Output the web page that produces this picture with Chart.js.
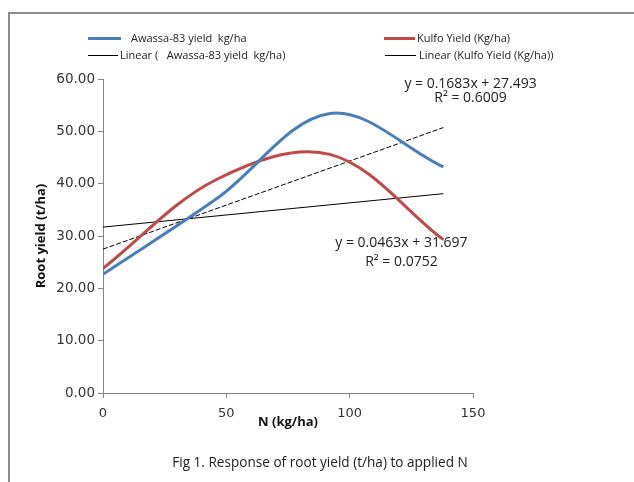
<!DOCTYPE html>
<html>
<head>
<meta charset="utf-8">
<script src="https://cdn.jsdelivr.net/npm/chart.js@4/dist/chart.umd.min.js"></script>
<style>
    body { margin: 0; background: #fff; }
    #wrap { position: relative; width: 634px; height: 482px; overflow: hidden; font-family: "Open Sans", sans-serif; }
    #frame { position: absolute; left: 8px; top: 12px; width: 640px; height: 480px; border-top: 2px solid #8c8c8c; border-left: 2px solid #8c8c8c; }
    canvas { position: absolute; left: 0; top: 0; }
    .leg { position: absolute; font-size: 11px; color: #222; white-space: pre; line-height: 14px; }
    .sw { position: absolute; height: 0; }
    #caption { position: absolute; left: 0; width: 640px; top: 452px; text-align: center; font-size: 13.6px; color: #222; }
</style>
</head>
<body>
<div id="wrap">
    <div id="frame"></div>
    <canvas id="rootChart" width="634" height="482"></canvas>

    <div class="sw" style="left:88px; top:37px; width:33px; border-top:3px solid #4a7ebb;"></div>
    <div class="leg" style="left:131px; top:31px;">Awassa-83 yield  kg/ha</div>
    <div class="sw" style="left:88px; top:55px; width:30px; border-top:1px solid #000;"></div>
    <div class="leg" style="left:120px; top:48px;">Linear (   Awassa-83 yield  kg/ha)</div>

    <div class="sw" style="left:384px; top:37px; width:31px; border-top:3px solid #be4b48;"></div>
    <div class="leg" style="left:417px; top:31px;">Kulfo Yield (Kg/ha)</div>
    <div class="sw" style="left:385px; top:55px; width:31px; border-top:1px solid #000;"></div>
    <div class="leg" style="left:419px; top:48px;">Linear (Kulfo Yield (Kg/ha))</div>

    <div id="caption">Fig 1. Response of root yield (t/ha) to applied N</div>
</div>

<script>
// N rates (kg/ha) and root yields (t/ha)
const nRates = [0, 46, 92, 138];
const awassaYield = [22.7, 37.1, 53.4, 43.2];
const kulfoYield = [23.8, 40.8, 45.6, 29.3];

// linear trendlines, end points
const trendX = [0, 138];
const awassaTrend = [27.49, 50.72];
const kulfoTrend = [31.70, 38.09];

// trendline equations and where they sit (data units)
const eqLabels = [
    { lines: ['y = 0.1683x + 27.493', 'R² = 0.6009'], x: 149, y: [59.1, 56.4] },
    { lines: ['y = 0.0463x + 31.697', 'R² = 0.0752'], x: 121, y: [28.7, 25.1] }
];

function toPoints(xs, ys) {
    return xs.map((x, i) => ({ x: x, y: ys[i] }));
}

const axisGrey = '#868686';

const eqPlugin = {
    id: 'eqText',
    afterDatasetsDraw(chart) {
        const ctx = chart.ctx;
        const xs = chart.scales.x;
        const ys = chart.scales.y;
        ctx.save();
        ctx.font = '14px "Open Sans"';
        ctx.fillStyle = '#222';
        ctx.textAlign = 'center';
        ctx.textBaseline = 'middle';
        eqLabels.forEach(lab => {
            lab.lines.forEach((t, i) => {
                ctx.fillText(t, xs.getPixelForValue(lab.x), ys.getPixelForValue(lab.y[i]));
            });
        });
        ctx.restore();
    }
};

new Chart(document.getElementById('rootChart'), {
    type: 'line',
    data: {
        datasets: [
            {
                label: 'Awassa-83 yield  kg/ha',
                data: toPoints(nRates, awassaYield),
                borderColor: '#4a7ebb',
                borderWidth: 3,
                tension: 0.35,
                pointRadius: 0
            },
            {
                label: 'Kulfo Yield (Kg/ha)',
                data: toPoints(nRates, kulfoYield),
                borderColor: '#be4b48',
                borderWidth: 3,
                tension: 0.35,
                pointRadius: 0
            },
            {
                label: 'Linear (   Awassa-83 yield  kg/ha)',
                data: toPoints(trendX, awassaTrend),
                borderColor: '#000',
                borderWidth: 1,
                borderDash: [5, 2],
                pointRadius: 0
            },
            {
                label: 'Linear (Kulfo Yield (Kg/ha))',
                data: toPoints(trendX, kulfoTrend),
                borderColor: '#000',
                borderWidth: 1,
                pointRadius: 0
            }
        ]
    },
    options: {
        responsive: false,
        animation: false,
        layout: { padding: { left: 29, right: 161, top: 79, bottom: 48 } },
        plugins: {
            legend: { display: false },
            tooltip: { enabled: false }
        },
        scales: {
            x: {
                type: 'linear',
                min: 0,
                max: 150,
                afterFit: s => { s.height = 41; },
                ticks: { stepSize: 50, padding: 8, color: '#333', font: { family: 'DejaVu Sans', size: 13 }, maxRotation: 0 },
                grid: { drawOnChartArea: false, tickLength: 5, color: axisGrey },
                border: { color: axisGrey },
                title: { display: true, text: 'N (kg/ha)', color: '#111', font: { family: 'Open Sans', size: 13, weight: 'bold' } }
            },
            y: {
                min: 0,
                max: 60,
                afterFit: s => { s.width = 74; },
                ticks: { stepSize: 10, padding: 3, color: '#333', font: { family: 'DejaVu Sans', size: 13.5 }, callback: v => v.toFixed(2) },
                grid: { drawOnChartArea: false, tickLength: 5, color: axisGrey },
                border: { color: axisGrey },
                title: { display: true, text: 'Root yield (t/ha)', color: '#111', font: { family: 'Open Sans', size: 13, weight: 'bold' } }
            }
        }
    },
    plugins: [eqPlugin]
});
</script>
</body>
</html>
